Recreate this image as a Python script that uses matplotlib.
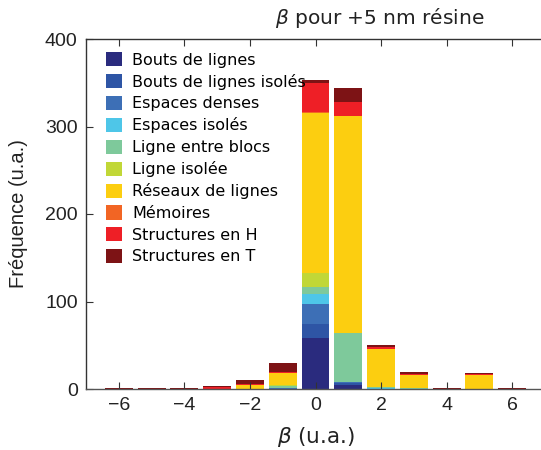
import matplotlib
matplotlib.use("Agg")
import matplotlib.pyplot as plt
import numpy as np

plt.rcParams['font.family'] = ['DejaVu Sans']
plt.rcParams['mathtext.fontset'] = 'dejavusans'

bins = [-6, -5, -4, -3, -2, -1, 0, 1, 2, 3, 4, 5, 6]
categories = ["Bouts de lignes", "Bouts de lignes isolés", "Espaces denses",
              "Espaces isolés", "Ligne entre blocs", "Ligne isolée",
              "Réseaux de lignes", "Mémoires", "Structures en H", "Structures en T"]
bouts =          [0, 0, 0, 0, 0, 0, 58, 5, 0, 0, 0, 0, 0]
bouts_isoles =   [0, 0, 0, 0, 0, 0, 16, 2, 0, 0, 0, 0, 0]
espaces_denses = [0, 0, 0, 0, 0, 1, 23, 1, 0.5, 0, 0, 0, 0]
espaces_isoles = [0, 0, 0, 0, 0, 0, 12, 0.5, 0.5, 0.5, 0, 0, 0]
ligne_blocs =    [0, 0, 0, 0.5, 0.5, 2, 8, 55, 1, 1, 0, 0.3, 0]
ligne_isolee =   [0, 0, 0, 0, 0, 2, 16, 0, 0, 0, 0, 0, 0]
reseaux =        [0, 0, 0, 0, 4, 13, 183, 249, 44, 14, 0, 16, 0]
memoires =       [0, 0, 0, 0, 0, 0, 1, 0, 0, 0, 0, 0, 0]
struct_h =       [0, 0, 0, 1.5, 1.5, 2, 33, 15, 1.5, 1.5, 0, 1, 0]
struct_t =       [1, 0.7, 0.7, 1, 4, 10, 3, 17, 3, 2, 0.7, 0.7, 0.7]
series = [bouts, bouts_isoles, espaces_denses, espaces_isoles, ligne_blocs,
          ligne_isolee, reseaux, memoires, struct_h, struct_t]
colors = ["#2a2b7e", "#2e55a5", "#3d6fb6", "#4ec6e8", "#7ec99b",
          "#c1d737", "#fcce10", "#f26524", "#ee1f26", "#7d1315"]
xticks = [-6, -4, -2, 0, 2, 4, 6]
yticks = [0, 100, 200, 300, 400]

fig = plt.figure(figsize=(5.41, 4.5), dpi=100)
ax = fig.add_axes([86/541, 61/450, 459/541, 350/450])

bottom = np.zeros(len(bins))
for vals, col, lab in zip(series, colors, categories):
    ax.bar(bins, vals, width=0.85, bottom=bottom, color=col, label=lab, linewidth=0)
    bottom += np.array(vals)

ax.set_xlim(-7, 7)
ax.set_ylim(0, 400)
ax.set_xticks(xticks)
ax.set_xticklabels([str(t).replace('-', '\u2212') for t in xticks],
                   fontfamily=['Liberation Sans', 'DejaVu Sans'])
ax.set_yticks(yticks)
ax.set_yticklabels([str(t) for t in yticks],
                   fontfamily=['Liberation Sans', 'DejaVu Sans'])
ax.tick_params(direction='in', length=5, width=0.8, colors='#333333',
               labelcolor='#222222', labelsize=14, top=True, right=False, pad=6)
for s in ax.spines.values():
    s.set_color('#333333')
    s.set_linewidth(1.0)
ax.spines['right'].set_visible(False)
ax.spines['bottom'].set_color('#555555')

ax.set_xlabel(r'$\beta$ (u.a.)', fontsize=15.5, color='#222222', labelpad=8)
ax.set_ylabel('Fréquence (u.a.)', fontsize=14.5, color='#222222', labelpad=12,
              fontfamily=['Liberation Sans', 'DejaVu Sans'])
fig.text(380/541, 1 - 18/450, r'$\beta$ pour $+5$ nm résine', fontsize=14.5,
         ha='center', va='center', color='#222222')

leg = ax.legend(loc='upper left', frameon=False, fontsize=11.5,
                handlelength=1.0, handleheight=1.0, labelspacing=0.38,
                handletextpad=0.65, borderaxespad=0.0, borderpad=0.0,
                bbox_to_anchor=(20/459, 1 - 13/350))

fig.savefig('out.png', dpi=100)
